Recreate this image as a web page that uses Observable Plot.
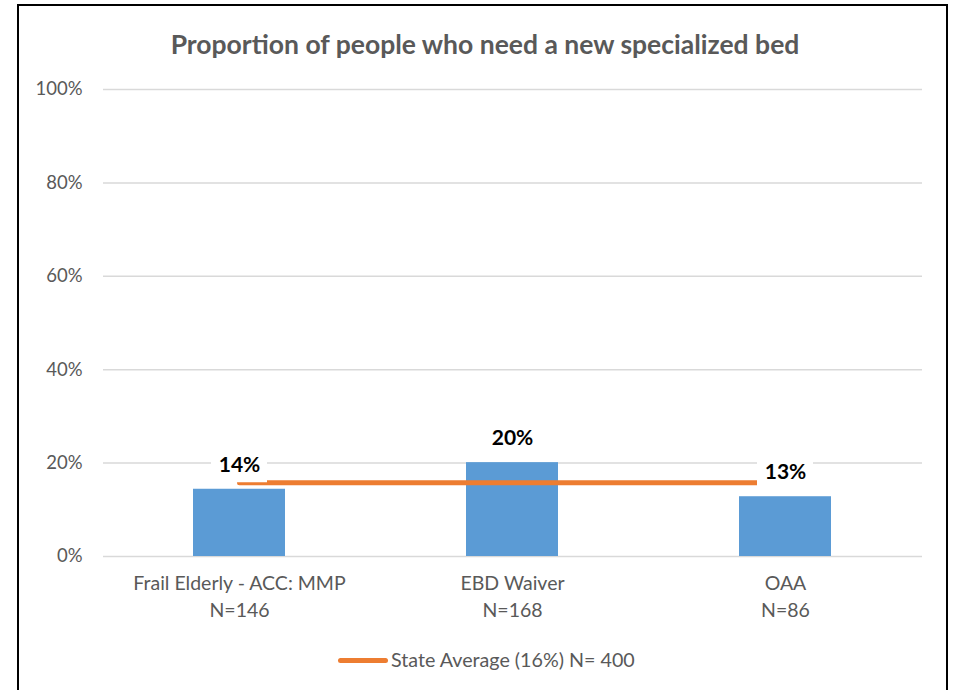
<!DOCTYPE html>
<html>
<head>
<meta charset="utf-8">
<script src="https://cdn.jsdelivr.net/npm/d3@7"></script>
<script src="https://cdn.jsdelivr.net/npm/@observablehq/plot@0.6"></script>
<style>
  html, body { margin: 0; padding: 0; background: #fff; width: 959px; height: 690px; overflow: hidden; font-family: Lato, "Open Sans", sans-serif; }
  #frame { position: absolute; left: 17px; top: 4px; width: 927px; height: 720px; border: 2px solid #000; box-sizing: content-box; }
  #title { position: absolute; left: 0; top: 28px; width: 970px; text-align: center; font-size: 26.5px; font-weight: bold; color: #595959; line-height: 32px; }
  #chart { position: absolute; left: 0; top: 74px; }
  #legend { position: absolute; left: 338px; top: 647px; font-size: 19.7px; color: #595959; display: flex; align-items: center; line-height: 26px; }
  #legend .sw { display: inline-block; width: 50px; height: 5px; background: #ed7d31; border-radius: 3px; margin-right: 3px; }
</style>
</head>
<body>
<div id="frame"></div>
<div id="title">Proportion of people who need a new specialized bed</div>
<div id="chart"></div>
<div id="legend"></div>
<script>
const categories = ["Frail Elderly - ACC: MMP", "EBD Waiver", "OAA"];
const sampleSizes = [146, 168, 86];
const values = [0.144, 0.201, 0.128];
const stateAverage = 0.158;
const stateN = 400;
const yTicks = [0, 0.2, 0.4, 0.6, 0.8, 1.0];

const data = categories.map((c, i) => ({cat: c, n: sampleSizes[i], value: values[i], avg: stateAverage}));
const nByCat = new Map(data.map(d => [d.cat, d.n]));

const chart = Plot.plot({
  width: 959,
  height: 560,
  marginLeft: 103,
  marginRight: 37,
  marginTop: 15,
  marginBottom: 78,
  style: {fontFamily: "Lato, 'Open Sans', sans-serif", background: "transparent"},
  x: {domain: categories, paddingInner: 0.663, paddingOuter: 0.3315, label: null},
  y: {domain: [0, 1], label: null},
  marks: [
    Plot.gridY(yTicks, {stroke: "#d9d9d9", strokeOpacity: 1, strokeWidth: 1.5}),
    Plot.axisY(yTicks, {tickSize: 0, tickPadding: 21, tickFormat: d3.format(".0%"), fontSize: 18.5, fill: "#595959", label: null}),
    Plot.axisX({tickSize: 0, tickPadding: 14, fontSize: 19.5, fill: "#595959", lineHeight: 1.39, label: null,
      tickFormat: d => d + "\nN=" + nByCat.get(d)}),
    Plot.barY(data, {x: "cat", y: "value", fill: "#5b9bd5"}),
    Plot.line(data, {x: "cat", y: "avg", stroke: "#ed7d31", strokeWidth: 5}),
    Plot.tickY(data, {x: "cat", y: "value", dy: -24, stroke: "white", strokeWidth: 34, insetLeft: 18, insetRight: 18}),
    Plot.text(data, {x: "cat", y: "value", dy: -24, text: d => d3.format(".0%")(d.value), fontSize: 21, fontWeight: "bold", fill: "#000"})
  ]
});
document.getElementById("chart").appendChild(chart);

document.getElementById("legend").innerHTML =
  '<span class="sw"></span><span>State Average (' + d3.format(".0%")(stateAverage) + ') N= ' + stateN + '</span>';
</script>
</body>
</html>
